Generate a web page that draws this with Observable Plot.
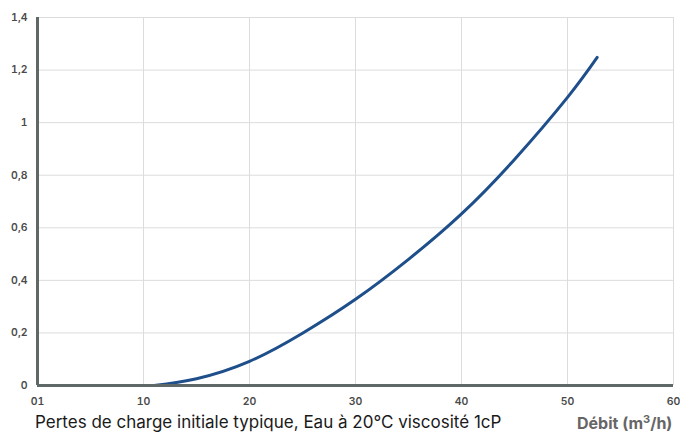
<!DOCTYPE html>
<html><head><meta charset="utf-8">
<script src="https://cdn.jsdelivr.net/npm/d3@7"></script>
<script src="https://cdn.jsdelivr.net/npm/@observablehq/plot@0.6"></script>
<style>
body{margin:0;background:#fff;width:680px;height:432px;overflow:hidden;position:relative;font-family:Inter,Roboto,sans-serif}
#chart{position:absolute;left:0;top:0}
.cap{position:absolute;white-space:nowrap;line-height:20px}
#capL{left:35px;top:412px;font-size:17px;color:#1a1a1a}
#capR{left:577px;top:413px;font-size:16px;font-weight:700;color:#666}
#capR .sup{font-size:11px;position:relative;top:-6px}
</style></head><body>
<div id="chart"></div>
<div class="cap" id="capL">Pertes de charge initiale typique, Eau à 20°C viscosité 1cP</div>
<div class="cap" id="capR">Débit (m<span class="sup">3</span>/h)</div>
<script>
const debit = [11, 15, 20, 25, 30, 35, 40, 45, 50, 52.8];
const perte = [0, 0.026, 0.092, 0.199, 0.328, 0.48, 0.653, 0.86, 1.096, 1.248];
const xTicks = [0, 10, 20, 30, 40, 50, 60];
const xTickLabels = ["01", "10", "20", "30", "40", "50", "60"];
const yTicks = [0, 0.2, 0.4, 0.6, 0.8, 1, 1.2, 1.4];
const yTickLabels = ["0", "0,2", "0,4", "0,6", "0,8", "1", "1,2", "1,4"];

const data = debit.map((d, i) => ({x: d, y: perte[i]}));
const axisColor = "#5e6967";

const chart = Plot.plot({
  width: 680,
  height: 412,
  marginLeft: 37,
  marginRight: 7,
  marginTop: 17,
  marginBottom: 27,
  style: {fontFamily: "Inter, Roboto, sans-serif", fontSize: "10.5px", fontWeight: 600, color: "#4a4a4a", background: "#fff"},
  x: {domain: [0, 60]},
  y: {domain: [0, 1.4]},
  marks: [
    Plot.gridX(xTicks, {stroke: "#dcdcdc", strokeOpacity: 1}),
    Plot.gridY(yTicks, {stroke: "#dcdcdc", strokeOpacity: 1}),
    Plot.axisX(xTicks, {tickSize: 0, tickPadding: 12, tickFormat: (d) => xTickLabels[xTicks.indexOf(d)], label: null}),
    Plot.axisY(yTicks, {tickSize: 0, tickPadding: 10, tickFormat: (d) => yTickLabels[yTicks.indexOf(d)], label: null}),
    Plot.line(data, {x: "x", y: "y", stroke: "#1e4f8b", strokeWidth: 3, curve: "natural"}),
    Plot.ruleX([0], {stroke: axisColor, strokeWidth: 3}),
    Plot.ruleY([0], {stroke: axisColor, strokeWidth: 3, x1: 0, x2: 60})
  ]
});
document.getElementById("chart").appendChild(chart);
</script>
</body></html>
